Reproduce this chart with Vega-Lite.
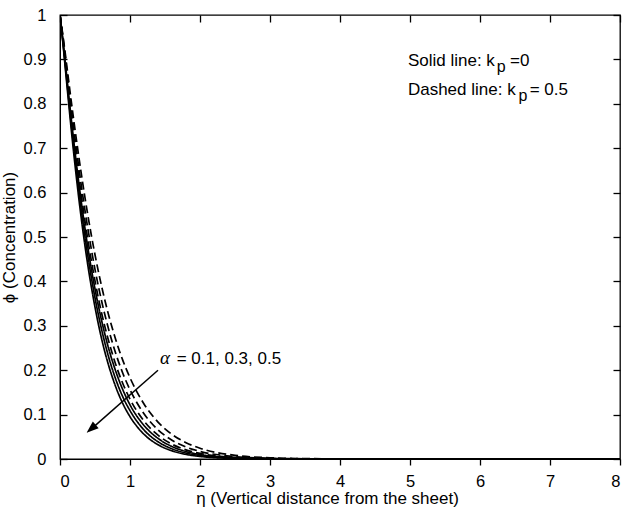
{
  "$schema": "https://vega.github.io/schema/vega-lite/v6.json",
  "width": 560,
  "height": 444,
  "autosize": {"type": "none"},
  "padding": {"left": 60, "top": 15, "right": 20, "bottom": 57},
  "background": "white",
  "config": {
    "font": "Liberation Sans",
    "view": {"stroke": "black", "strokeWidth": 1.3},
    "axis": {
      "grid": false,
      "domain": true,
      "domainColor": "black",
      "ticks": true,
      "tickColor": "black",
      "tickOpacity": 1,
      "tickWidth": 1.3,
      "labelColor": "black",
      "labelFontSize": 16.5,
      "labelFont": "Liberation Sans",
      "titleColor": "black",
      "titleFontSize": 17,
      "titleFont": "Liberation Sans",
      "titleFontWeight": "normal"
    }
  },
  "layer": [
    {
      "data": {
        "values": [
          {"series": "S1", "kp": "0", "eta": 0, "phi": 1},
          {"series": "S1", "kp": "0", "eta": 0.05, "phi": 0.923},
          {"series": "S1", "kp": "0", "eta": 0.1, "phi": 0.84},
          {"series": "S1", "kp": "0", "eta": 0.15, "phi": 0.759},
          {"series": "S1", "kp": "0", "eta": 0.2, "phi": 0.683},
          {"series": "S1", "kp": "0", "eta": 0.3, "phi": 0.547},
          {"series": "S1", "kp": "0", "eta": 0.4, "phi": 0.434},
          {"series": "S1", "kp": "0", "eta": 0.5, "phi": 0.342},
          {"series": "S1", "kp": "0", "eta": 0.6, "phi": 0.267},
          {"series": "S1", "kp": "0", "eta": 0.7, "phi": 0.208},
          {"series": "S1", "kp": "0", "eta": 0.8, "phi": 0.161},
          {"series": "S1", "kp": "0", "eta": 0.9, "phi": 0.124},
          {"series": "S1", "kp": "0", "eta": 1.0, "phi": 0.0954},
          {"series": "S1", "kp": "0", "eta": 1.2, "phi": 0.0557},
          {"series": "S1", "kp": "0", "eta": 1.4, "phi": 0.0322},
          {"series": "S1", "kp": "0", "eta": 1.6, "phi": 0.0184},
          {"series": "S1", "kp": "0", "eta": 1.8, "phi": 0.0104},
          {"series": "S1", "kp": "0", "eta": 2.0, "phi": 0.0058},
          {"series": "S1", "kp": "0", "eta": 2.5, "phi": 0.0013},
          {"series": "S1", "kp": "0", "eta": 3.0, "phi": 0.0003},
          {"series": "S1", "kp": "0", "eta": 4.0, "phi": 0},
          {"series": "S1", "kp": "0", "eta": 6.0, "phi": 0},
          {"series": "S1", "kp": "0", "eta": 8.0, "phi": 0},

          {"series": "S2", "kp": "0", "eta": 0, "phi": 1},
          {"series": "S2", "kp": "0", "eta": 0.05, "phi": 0.927},
          {"series": "S2", "kp": "0", "eta": 0.1, "phi": 0.848},
          {"series": "S2", "kp": "0", "eta": 0.15, "phi": 0.771},
          {"series": "S2", "kp": "0", "eta": 0.2, "phi": 0.698},
          {"series": "S2", "kp": "0", "eta": 0.3, "phi": 0.566},
          {"series": "S2", "kp": "0", "eta": 0.4, "phi": 0.455},
          {"series": "S2", "kp": "0", "eta": 0.5, "phi": 0.363},
          {"series": "S2", "kp": "0", "eta": 0.6, "phi": 0.288},
          {"series": "S2", "kp": "0", "eta": 0.7, "phi": 0.227},
          {"series": "S2", "kp": "0", "eta": 0.8, "phi": 0.178},
          {"series": "S2", "kp": "0", "eta": 0.9, "phi": 0.139},
          {"series": "S2", "kp": "0", "eta": 1.0, "phi": 0.109},
          {"series": "S2", "kp": "0", "eta": 1.2, "phi": 0.0654},
          {"series": "S2", "kp": "0", "eta": 1.4, "phi": 0.0389},
          {"series": "S2", "kp": "0", "eta": 1.6, "phi": 0.0229},
          {"series": "S2", "kp": "0", "eta": 1.8, "phi": 0.0134},
          {"series": "S2", "kp": "0", "eta": 2.0, "phi": 0.0078},
          {"series": "S2", "kp": "0", "eta": 2.5, "phi": 0.0019},
          {"series": "S2", "kp": "0", "eta": 3.0, "phi": 0.0005},
          {"series": "S2", "kp": "0", "eta": 3.5, "phi": 0.0001},
          {"series": "S2", "kp": "0", "eta": 4.0, "phi": 0},
          {"series": "S2", "kp": "0", "eta": 6.0, "phi": 0},
          {"series": "S2", "kp": "0", "eta": 8.0, "phi": 0},

          {"series": "S3", "kp": "0", "eta": 0, "phi": 1},
          {"series": "S3", "kp": "0", "eta": 0.05, "phi": 0.931},
          {"series": "S3", "kp": "0", "eta": 0.1, "phi": 0.856},
          {"series": "S3", "kp": "0", "eta": 0.15, "phi": 0.782},
          {"series": "S3", "kp": "0", "eta": 0.2, "phi": 0.711},
          {"series": "S3", "kp": "0", "eta": 0.3, "phi": 0.584},
          {"series": "S3", "kp": "0", "eta": 0.4, "phi": 0.474},
          {"series": "S3", "kp": "0", "eta": 0.5, "phi": 0.383},
          {"series": "S3", "kp": "0", "eta": 0.6, "phi": 0.308},
          {"series": "S3", "kp": "0", "eta": 0.7, "phi": 0.246},
          {"series": "S3", "kp": "0", "eta": 0.8, "phi": 0.196},
          {"series": "S3", "kp": "0", "eta": 0.9, "phi": 0.155},
          {"series": "S3", "kp": "0", "eta": 1.0, "phi": 0.122},
          {"series": "S3", "kp": "0", "eta": 1.2, "phi": 0.0757},
          {"series": "S3", "kp": "0", "eta": 1.4, "phi": 0.0464},
          {"series": "S3", "kp": "0", "eta": 1.6, "phi": 0.0281},
          {"series": "S3", "kp": "0", "eta": 1.8, "phi": 0.0169},
          {"series": "S3", "kp": "0", "eta": 2.0, "phi": 0.0101},
          {"series": "S3", "kp": "0", "eta": 2.5, "phi": 0.0027},
          {"series": "S3", "kp": "0", "eta": 3.0, "phi": 0.0007},
          {"series": "S3", "kp": "0", "eta": 3.5, "phi": 0.0002},
          {"series": "S3", "kp": "0", "eta": 4.0, "phi": 0},
          {"series": "S3", "kp": "0", "eta": 6.0, "phi": 0},
          {"series": "S3", "kp": "0", "eta": 8.0, "phi": 0},

          {"series": "D1", "kp": "0.5", "eta": 0, "phi": 1},
          {"series": "D1", "kp": "0.5", "eta": 0.05, "phi": 0.934},
          {"series": "D1", "kp": "0.5", "eta": 0.1, "phi": 0.862},
          {"series": "D1", "kp": "0.5", "eta": 0.15, "phi": 0.791},
          {"series": "D1", "kp": "0.5", "eta": 0.2, "phi": 0.723},
          {"series": "D1", "kp": "0.5", "eta": 0.3, "phi": 0.599},
          {"series": "D1", "kp": "0.5", "eta": 0.4, "phi": 0.492},
          {"series": "D1", "kp": "0.5", "eta": 0.5, "phi": 0.401},
          {"series": "D1", "kp": "0.5", "eta": 0.6, "phi": 0.325},
          {"series": "D1", "kp": "0.5", "eta": 0.7, "phi": 0.263},
          {"series": "D1", "kp": "0.5", "eta": 0.8, "phi": 0.211},
          {"series": "D1", "kp": "0.5", "eta": 0.9, "phi": 0.169},
          {"series": "D1", "kp": "0.5", "eta": 1.0, "phi": 0.135},
          {"series": "D1", "kp": "0.5", "eta": 1.2, "phi": 0.0856},
          {"series": "D1", "kp": "0.5", "eta": 1.4, "phi": 0.0537},
          {"series": "D1", "kp": "0.5", "eta": 1.6, "phi": 0.0333},
          {"series": "D1", "kp": "0.5", "eta": 1.8, "phi": 0.0205},
          {"series": "D1", "kp": "0.5", "eta": 2.0, "phi": 0.0126},
          {"series": "D1", "kp": "0.5", "eta": 2.5, "phi": 0.0036},
          {"series": "D1", "kp": "0.5", "eta": 3.0, "phi": 0.001},
          {"series": "D1", "kp": "0.5", "eta": 3.5, "phi": 0.0003},
          {"series": "D1", "kp": "0.5", "eta": 4.0, "phi": 0.0001},
          {"series": "D1", "kp": "0.5", "eta": 5.0, "phi": 0},
          {"series": "D1", "kp": "0.5", "eta": 6.5, "phi": 0},
          {"series": "D1", "kp": "0.5", "eta": 8.0, "phi": 0},

          {"series": "D2", "kp": "0.5", "eta": 0, "phi": 1},
          {"series": "D2", "kp": "0.5", "eta": 0.05, "phi": 0.939},
          {"series": "D2", "kp": "0.5", "eta": 0.1, "phi": 0.871},
          {"series": "D2", "kp": "0.5", "eta": 0.15, "phi": 0.804},
          {"series": "D2", "kp": "0.5", "eta": 0.2, "phi": 0.74},
          {"series": "D2", "kp": "0.5", "eta": 0.3, "phi": 0.621},
          {"series": "D2", "kp": "0.5", "eta": 0.4, "phi": 0.517},
          {"series": "D2", "kp": "0.5", "eta": 0.5, "phi": 0.427},
          {"series": "D2", "kp": "0.5", "eta": 0.6, "phi": 0.352},
          {"series": "D2", "kp": "0.5", "eta": 0.7, "phi": 0.289},
          {"series": "D2", "kp": "0.5", "eta": 0.8, "phi": 0.236},
          {"series": "D2", "kp": "0.5", "eta": 0.9, "phi": 0.192},
          {"series": "D2", "kp": "0.5", "eta": 1.0, "phi": 0.156},
          {"series": "D2", "kp": "0.5", "eta": 1.2, "phi": 0.102},
          {"series": "D2", "kp": "0.5", "eta": 1.4, "phi": 0.0658},
          {"series": "D2", "kp": "0.5", "eta": 1.6, "phi": 0.0423},
          {"series": "D2", "kp": "0.5", "eta": 1.8, "phi": 0.0269},
          {"series": "D2", "kp": "0.5", "eta": 2.0, "phi": 0.0171},
          {"series": "D2", "kp": "0.5", "eta": 2.5, "phi": 0.0053},
          {"series": "D2", "kp": "0.5", "eta": 3.0, "phi": 0.0016},
          {"series": "D2", "kp": "0.5", "eta": 3.5, "phi": 0.0005},
          {"series": "D2", "kp": "0.5", "eta": 4.0, "phi": 0.0001},
          {"series": "D2", "kp": "0.5", "eta": 5.0, "phi": 0},
          {"series": "D2", "kp": "0.5", "eta": 6.5, "phi": 0},
          {"series": "D2", "kp": "0.5", "eta": 8.0, "phi": 0},

          {"series": "D3", "kp": "0.5", "eta": 0, "phi": 1},
          {"series": "D3", "kp": "0.5", "eta": 0.05, "phi": 0.944},
          {"series": "D3", "kp": "0.5", "eta": 0.1, "phi": 0.882},
          {"series": "D3", "kp": "0.5", "eta": 0.15, "phi": 0.819},
          {"series": "D3", "kp": "0.5", "eta": 0.2, "phi": 0.759},
          {"series": "D3", "kp": "0.5", "eta": 0.3, "phi": 0.647},
          {"series": "D3", "kp": "0.5", "eta": 0.4, "phi": 0.547},
          {"series": "D3", "kp": "0.5", "eta": 0.5, "phi": 0.46},
          {"series": "D3", "kp": "0.5", "eta": 0.6, "phi": 0.385},
          {"series": "D3", "kp": "0.5", "eta": 0.7, "phi": 0.321},
          {"series": "D3", "kp": "0.5", "eta": 0.8, "phi": 0.267},
          {"series": "D3", "kp": "0.5", "eta": 0.9, "phi": 0.221},
          {"series": "D3", "kp": "0.5", "eta": 1.0, "phi": 0.183},
          {"series": "D3", "kp": "0.5", "eta": 1.2, "phi": 0.124},
          {"series": "D3", "kp": "0.5", "eta": 1.4, "phi": 0.0832},
          {"series": "D3", "kp": "0.5", "eta": 1.6, "phi": 0.0555},
          {"series": "D3", "kp": "0.5", "eta": 1.8, "phi": 0.0368},
          {"series": "D3", "kp": "0.5", "eta": 2.0, "phi": 0.0242},
          {"series": "D3", "kp": "0.5", "eta": 2.5, "phi": 0.0083},
          {"series": "D3", "kp": "0.5", "eta": 3.0, "phi": 0.0028},
          {"series": "D3", "kp": "0.5", "eta": 3.5, "phi": 0.0009},
          {"series": "D3", "kp": "0.5", "eta": 4.0, "phi": 0.0003},
          {"series": "D3", "kp": "0.5", "eta": 5.0, "phi": 0},
          {"series": "D3", "kp": "0.5", "eta": 6.5, "phi": 0},
          {"series": "D3", "kp": "0.5", "eta": 8.0, "phi": 0}
        ]
      },
      "mark": {"type": "line", "interpolate": "monotone", "color": "black", "strokeWidth": 1.7, "clip": true},
      "encoding": {
        "x": {
          "field": "eta",
          "type": "quantitative",
          "scale": {"domain": [0, 8], "nice": false, "zero": false},
          "axis": {
            "orient": "bottom",
            "values": [0, 1, 2, 3, 4, 5, 6, 7, 8],
            "tickSize": 6,
            "labelPadding": 8,
            "title": "η (Vertical distance from the sheet)",
            "titlePadding": 1,
            "titleX": 267
          }
        },
        "y": {
          "field": "phi",
          "type": "quantitative",
          "scale": {"domain": [0, 1], "nice": false},
          "axis": {
            "orient": "left",
            "values": [0, 0.1, 0.2, 0.3, 0.4, 0.5, 0.6, 0.7, 0.8, 0.9, 1],
            "tickSize": -7,
            "labelPadding": 21,
            "format": "~g",
            "title": "ϕ (Concentration)",
            "titlePadding": 5
          }
        },
        "detail": {"field": "series", "type": "nominal"},
        "strokeDash": {
          "field": "kp",
          "type": "nominal",
          "scale": {"domain": ["0", "0.5"], "range": [[1, 0], [8, 4]]},
          "legend": null
        }
      }
    },
    {
      "data": {"values": [{}]},
      "mark": {"type": "rule", "color": "black", "strokeWidth": 1.5},
      "encoding": {
        "x": {
          "datum": 1.4,
          "type": "quantitative",
          "axis": {"orient": "top", "values": [0, 1, 2, 3, 4, 5, 6, 7, 8], "tickSize": 7, "offset": -7, "domain": false, "labels": false, "title": null}
        },
        "y": {
          "datum": 0.2,
          "type": "quantitative",
          "axis": {"orient": "right", "values": [0, 0.1, 0.2, 0.3, 0.4, 0.5, 0.6, 0.7, 0.8, 0.9, 1], "tickSize": 7, "offset": -7, "domain": false, "labels": false, "title": null}
        },
        "x2": {"datum": 0.42},
        "y2": {"datum": 0.064}
      }
    },
    {
      "data": {"values": [{}]},
      "mark": {"type": "point", "shape": "M0,0L-0.55,1.5L0.55,1.5Z", "filled": true, "color": "black", "opacity": 1, "size": 260, "angle": 229},
      "encoding": {
        "x": {"datum": 0.38, "type": "quantitative", "axis": null},
        "y": {"datum": 0.059, "type": "quantitative", "axis": null}
      }
    },
    {
      "data": {"values": [{}]},
      "mark": {"type": "text", "text": "α", "font": "Liberation Serif", "fontStyle": "italic", "fontSize": 19, "align": "left", "baseline": "alphabetic", "color": "black"},
      "encoding": {
        "x": {"datum": 1.43, "type": "quantitative", "axis": null},
        "y": {"datum": 0.215, "type": "quantitative", "axis": null}
      }
    },
    {
      "data": {"values": [{}]},
      "mark": {"type": "text", "text": "= 0.1, 0.3, 0.5", "fontSize": 17, "align": "left", "baseline": "alphabetic", "color": "black"},
      "encoding": {
        "x": {"datum": 1.667, "type": "quantitative", "axis": null},
        "y": {"datum": 0.215, "type": "quantitative", "axis": null}
      }
    },
    {
      "data": {"values": [{}]},
      "mark": {"type": "text", "text": "Solid line: k", "fontSize": 17, "align": "left", "baseline": "alphabetic", "color": "black"},
      "encoding": {
        "x": {"datum": 4.97, "type": "quantitative", "axis": null},
        "y": {"datum": 0.885, "type": "quantitative", "axis": null}
      }
    },
    {
      "data": {"values": [{}]},
      "mark": {"type": "text", "text": "p", "fontSize": 16, "align": "left", "baseline": "alphabetic", "color": "black"},
      "encoding": {
        "x": {"datum": 6.24, "type": "quantitative", "axis": null},
        "y": {"datum": 0.871, "type": "quantitative", "axis": null}
      }
    },
    {
      "data": {"values": [{}]},
      "mark": {"type": "text", "text": "=0", "fontSize": 17, "align": "left", "baseline": "alphabetic", "color": "black"},
      "encoding": {
        "x": {"datum": 6.43, "type": "quantitative", "axis": null},
        "y": {"datum": 0.885, "type": "quantitative", "axis": null}
      }
    },
    {
      "data": {"values": [{}]},
      "mark": {"type": "text", "text": "Dashed line: k", "fontSize": 17, "align": "left", "baseline": "alphabetic", "color": "black"},
      "encoding": {
        "x": {"datum": 4.97, "type": "quantitative", "axis": null},
        "y": {"datum": 0.82, "type": "quantitative", "axis": null}
      }
    },
    {
      "data": {"values": [{}]},
      "mark": {"type": "text", "text": "p", "fontSize": 16, "align": "left", "baseline": "alphabetic", "color": "black"},
      "encoding": {
        "x": {"datum": 6.55, "type": "quantitative", "axis": null},
        "y": {"datum": 0.806, "type": "quantitative", "axis": null}
      }
    },
    {
      "data": {"values": [{}]},
      "mark": {"type": "text", "text": "= 0.5", "fontSize": 17, "align": "left", "baseline": "alphabetic", "color": "black"},
      "encoding": {
        "x": {"datum": 6.71, "type": "quantitative", "axis": null},
        "y": {"datum": 0.82, "type": "quantitative", "axis": null}
      }
    }
  ]
}
